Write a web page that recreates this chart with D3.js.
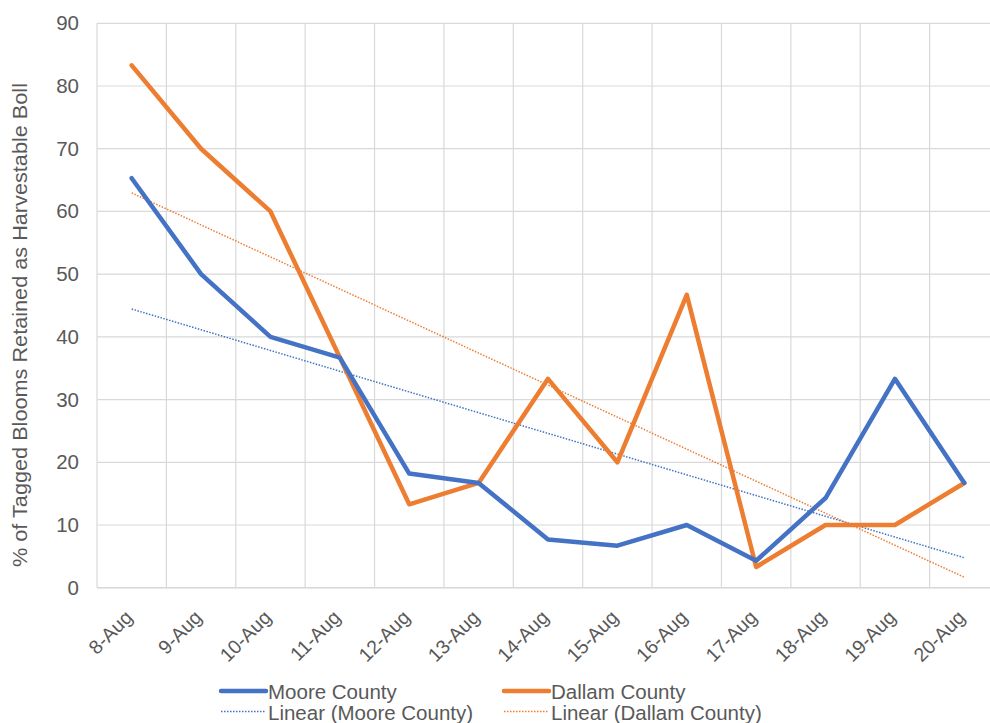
<!DOCTYPE html>
<html>
<head>
<meta charset="utf-8">
<script src="https://cdn.jsdelivr.net/npm/d3@7"></script>
<style>
  body { margin: 0; background: #fff; }
  text { font-family: "Liberation Sans", Arial, sans-serif; fill: #595959; }
</style>
</head>
<body>
<div id="chart"></div>
<script>
// data
var categories = ["8-Aug", "9-Aug", "10-Aug", "11-Aug", "12-Aug", "13-Aug", "14-Aug",
                  "15-Aug", "16-Aug", "17-Aug", "18-Aug", "19-Aug", "20-Aug"];
var moore = [65.3, 50, 40, 36.7, 18.2, 16.7, 7.7, 6.7, 10, 4.3, 14.3, 33.3, 16.7];
var dallam = [83.3, 70, 60, 36.7, 13.3, 16.7, 33.3, 20, 46.7, 3.3, 10, 10, 16.7];
var yTicks = [0, 10, 20, 30, 40, 50, 60, 70, 80, 90];

var blue = "#4472C4", orange = "#ED7D31";
var W = 990, H = 723;
var margin = {top: 23.3, right: -9, bottom: 135.3, left: 97};

var svg = d3.select("#chart").append("svg")
    .attr("width", W)
    .attr("height", H);

var x = d3.scaleBand()
    .domain(categories)
    .range([margin.left, W - margin.right])
    .paddingInner(0).paddingOuter(0);
var y = d3.scaleLinear()
    .domain([0, 90])
    .range([H - margin.bottom, margin.top]);

var cx = function(d) { return x(d) + x.bandwidth() / 2; };

// horizontal gridlines
svg.append("g").selectAll("line")
    .data(yTicks)
    .enter().append("line")
    .attr("x1", margin.left).attr("x2", W - margin.right)
    .attr("y1", function(d) { return y(d); })
    .attr("y2", function(d) { return y(d); })
    .attr("stroke", "#d9d9d9").attr("stroke-width", 1.2);

// vertical gridlines at category boundaries
svg.append("g").selectAll("line")
    .data(categories)
    .enter().append("line")
    .attr("x1", function(d) { return x(d); })
    .attr("x2", function(d) { return x(d); })
    .attr("y1", y(90)).attr("y2", y(0))
    .attr("stroke", "#d9d9d9").attr("stroke-width", 1.2);

// y axis labels
var yAxis = d3.axisLeft(y).tickValues(yTicks).tickSize(0).tickPadding(18);
var gy = svg.append("g")
    .attr("transform", "translate(" + margin.left + ",0)")
    .call(yAxis);
gy.select(".domain").remove();
gy.selectAll("text").style("font-size", "20.5px").attr("fill", "#595959");

// x axis labels
var xAxis = d3.axisBottom(x).tickSize(0).tickPadding(0);
var gx = svg.append("g")
    .attr("transform", "translate(0," + y(0) + ")")
    .call(xAxis);
gx.select(".domain").remove();
gx.selectAll("text")
    .style("font-size", "19.5px")
    .attr("fill", "#595959")
    .attr("text-anchor", "end")
    .attr("dy", null)
    .attr("y", 0)
    .attr("transform", "translate(-3,26) rotate(-45)")
    .attr("dominant-baseline", "central");

// bottom axis line
svg.append("line")
    .attr("x1", margin.left).attr("x2", W - margin.right)
    .attr("y1", y(0)).attr("y2", y(0))
    .attr("stroke", "#d9d9d9").attr("stroke-width", 1.5);

// y axis title
svg.append("text")
    .attr("transform", "translate(27,325) rotate(-90)")
    .attr("text-anchor", "middle")
    .attr("textLength", 484)
    .attr("lengthAdjust", "spacingAndGlyphs")
    .style("font-size", "20.5px")
    .text("% of Tagged Blooms Retained as Harvestable Boll");

// least squares trend
function trend(vals) {
  var n = vals.length, xs = d3.range(1, n + 1);
  var mx = d3.mean(xs), my = d3.mean(vals);
  var sxy = d3.sum(xs, function(v, i) { return (v - mx) * (vals[i] - my); });
  var sxx = d3.sum(xs, function(v) { return (v - mx) * (v - mx); });
  var b = sxy / sxx, a = my - b * mx;
  return xs.map(function(v) { return a + b * v; });
}

var line = d3.line()
    .x(function(d, i) { return cx(categories[i]); })
    .y(function(d) { return y(d); });

var trends = [{vals: trend(moore), color: blue}, {vals: trend(dallam), color: orange}];
trends.forEach(function(t) {
  svg.append("path")
      .datum(t.vals)
      .attr("d", line)
      .attr("fill", "none")
      .attr("stroke", t.color)
      .attr("stroke-width", 1.5)
      .attr("stroke-dasharray", "1.5 1.5");
});

var series = [{vals: dallam, color: orange}, {vals: moore, color: blue}];
series.forEach(function(s) {
  svg.append("path")
      .datum(s.vals)
      .attr("d", line)
      .attr("fill", "none")
      .attr("stroke", s.color)
      .attr("stroke-width", 4.5)
      .attr("stroke-linejoin", "round")
      .attr("stroke-linecap", "round");
});

// legend
var legendItems = [
  {label: "Moore County", color: blue, dotted: false, x: 221, y: 691},
  {label: "Dallam County", color: orange, dotted: false, x: 504, y: 691},
  {label: "Linear (Moore County)", color: blue, dotted: true, x: 221, y: 711.5},
  {label: "Linear (Dallam County)", color: orange, dotted: true, x: 504, y: 711.5}
];
var lg = svg.append("g").selectAll("g")
    .data(legendItems)
    .enter().append("g")
    .attr("transform", function(d) { return "translate(" + d.x + "," + d.y + ")"; });
lg.append("line")
    .attr("x1", 0).attr("x2", 45)
    .attr("y1", 0).attr("y2", 0)
    .attr("stroke", function(d) { return d.color; })
    .attr("stroke-width", function(d) { return d.dotted ? 1.5 : 4.5; })
    .attr("stroke-dasharray", function(d) { return d.dotted ? "1.5 1.5" : null; })
    .attr("stroke-linecap", function(d) { return d.dotted ? "butt" : "round"; });
lg.append("text")
    .attr("x", 47)
    .attr("y", 0.5)
    .attr("dominant-baseline", "central")
    .style("font-size", "20.5px")
    .text(function(d) { return d.label; });
</script>
</body>
</html>
